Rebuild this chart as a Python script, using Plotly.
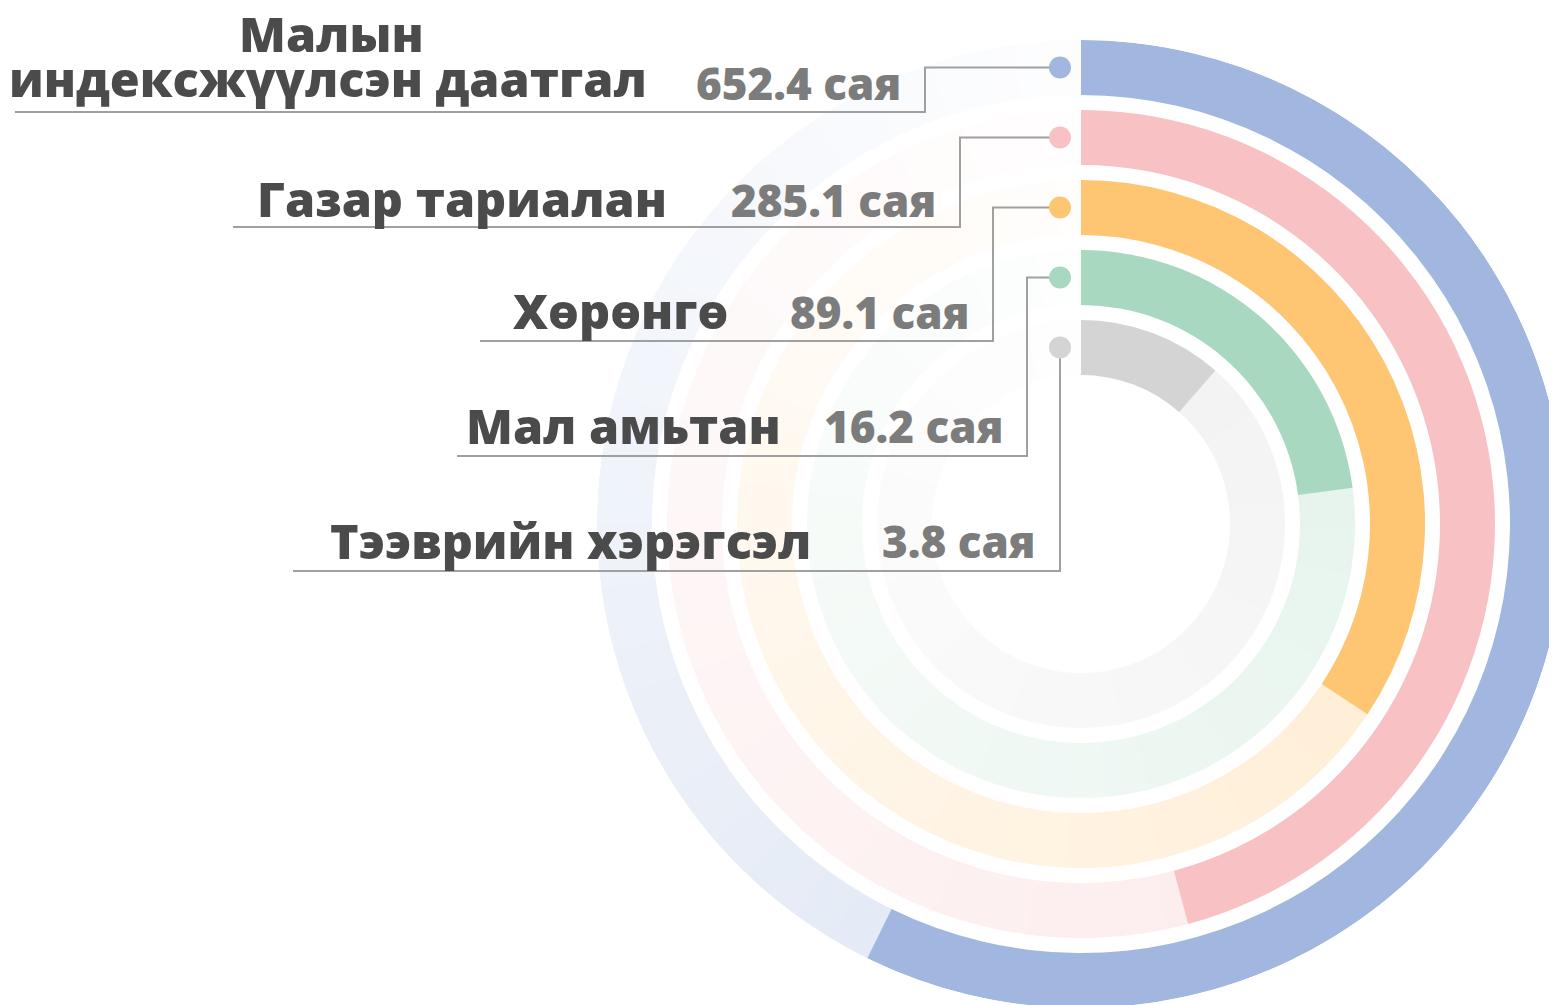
import plotly.graph_objects as go

# ---------------- data ----------------
categories = ["Малын\nиндексжүүлсэн даатгал", "Газар тариалан", "Хөрөнгө", "Мал амьтан", "Тээврийн хэрэгсэл"]
values = [652.4, 285.1, 89.1, 16.2, 3.8]
unit = "сая"
arc_degrees = [206.2, 165.0, 123.6, 82.4, 41.2]   # arc length of each ring as drawn
colors = ["#a1b7df", "#f8c1c3", "#fec573", "#a9d8c0", "#d4d4d4"]

# ---------------- layout constants (pixels, page coordinates) ----------------
W, H = 1557, 1005
OFF = 8                     # page body margin: figure starts 8px in from the page corner
CX, CY = 1081 - OFF, 524 - OFF
R_OUTER, RING, STEP = 484, 55, 70
R_PLOT = min(W - CX, H - CY, CX)

name_right = [648, 668, 730, 782, 812]
line_left = [15, 233, 480, 457, 293]
baseline = [97, 217, 329, 444, 559]
value_baseline = [100, 217, 329, 443, 558]
underline_y = [112, 227, 341, 456, 571]
elbow_x = [925, 960, 993, 1027, 1060]
dot_x = 1060
NAME_SIZE, VALUE_SIZE = 48.5, 44
FONT = "Open Sans"
NAME_COLOR, VALUE_COLOR, LINE_COLOR = "#4b4b4b", "#7c7c7c", "#a0a0a0"


def mix(hexcol, a):
    h = hexcol.lstrip("#")
    r, g, b = (int(h[k:k + 2], 16) for k in (0, 2, 4))
    return "rgb({},{},{})".format(*(round(255 - a * (255 - c)) for c in (r, g, b)))


def px(x):
    return (x - OFF) / W


def py(y):
    return 1 - (y - OFF) / H


fig = go.Figure()

# background tracks (fading gradient)
N = 60
for i, (deg, col) in enumerate(zip(arc_degrees, colors)):
    outer = R_OUTER - STEP * i
    inner = outer - RING
    span = 360 - deg
    thetas, widths, cols = [], [], []
    for k in range(N):
        w = span / N
        thetas.append(deg + w * (k + 0.5))
        widths.append(w + 0.5)
        f = (k + 0.5) / N
        cols.append(mix(col, 0.28 * (1 - f) + 0.02 * f))
    fig.add_trace(go.Barpolar(r=[RING] * N, base=[inner] * N, theta=thetas, width=widths,
                              marker=dict(color=cols, line=dict(width=0)),
                              hoverinfo="skip", showlegend=False))

# value rings
for i, (deg, col, cat, v) in enumerate(zip(arc_degrees, colors, categories, values)):
    outer = R_OUTER - STEP * i
    inner = outer - RING
    fig.add_trace(go.Barpolar(r=[RING], base=[inner], theta=[deg / 2], width=[deg],
                              marker=dict(color=col, line=dict(width=0)),
                              name=cat.replace("\n", " "), hovertext=[f"{v} {unit}"],
                              hoverinfo="text", showlegend=False))

shapes = []
annotations = []

for i, (cat, v, col) in enumerate(zip(categories, values, colors)):
    outer = R_OUTER - STEP * i
    dot_y = (CY + OFF) - (outer - RING / 2)
    # connector: underline -> elbow -> dot
    path = (f"M {px(line_left[i])},{py(underline_y[i])} L {px(elbow_x[i])},{py(underline_y[i])} "
            f"L {px(elbow_x[i])},{py(dot_y)} L {px(dot_x)},{py(dot_y)}")
    shapes.append(dict(type="path", xref="paper", yref="paper", path=path,
                       line=dict(color=LINE_COLOR, width=2)))
    shapes.append(dict(type="circle", xref="paper", yref="paper",
                       xsizemode="pixel", ysizemode="pixel",
                       xanchor=px(dot_x), yanchor=py(dot_y), x0=-11, x1=11, y0=-11, y1=11,
                       fillcolor=col, line=dict(width=0)))
    lines = cat.split("\n")
    for j, ln in enumerate(lines):
        k = len(lines) - 1 - j
        by = baseline[i] - 45 * k
        if k == 0:
            x, anchor = px(name_right[i]), "right"
        else:
            x, anchor = px((line_left[i] + name_right[i]) / 2), "center"
        annotations.append(dict(xref="paper", yref="paper", x=x, y=py(by - 0.388 * NAME_SIZE),
                                xanchor=anchor, yanchor="middle", text=ln, showarrow=False,
                                borderpad=0,
                                font=dict(family=FONT, size=NAME_SIZE, color=NAME_COLOR, weight=800)))
    annotations.append(dict(xref="paper", yref="paper", x=px(elbow_x[i] - 23),
                            y=py(value_baseline[i] - 0.388 * VALUE_SIZE),
                            xanchor="right", yanchor="middle", text=f"{v} {unit}", showarrow=False,
                            borderpad=0,
                            font=dict(family=FONT, size=VALUE_SIZE, color=VALUE_COLOR, weight=800)))

fig.update_layout(
    width=W, height=H, margin=dict(l=0, r=0, t=0, b=0),
    paper_bgcolor="white", plot_bgcolor="white", showlegend=False,
    polar=dict(
        domain=dict(x=[(CX - R_PLOT) / W, (CX + R_PLOT) / W],
                    y=[(H - CY - R_PLOT) / H, (H - CY + R_PLOT) / H]),
        radialaxis=dict(range=[0, R_PLOT], visible=False, showgrid=False),
        angularaxis=dict(rotation=90, direction="clockwise", visible=False, showgrid=False),
        bgcolor="rgba(0,0,0,0)", barmode="overlay", hole=0,
    ),
    shapes=shapes, annotations=annotations,
)

fig.write_html("out.html")
